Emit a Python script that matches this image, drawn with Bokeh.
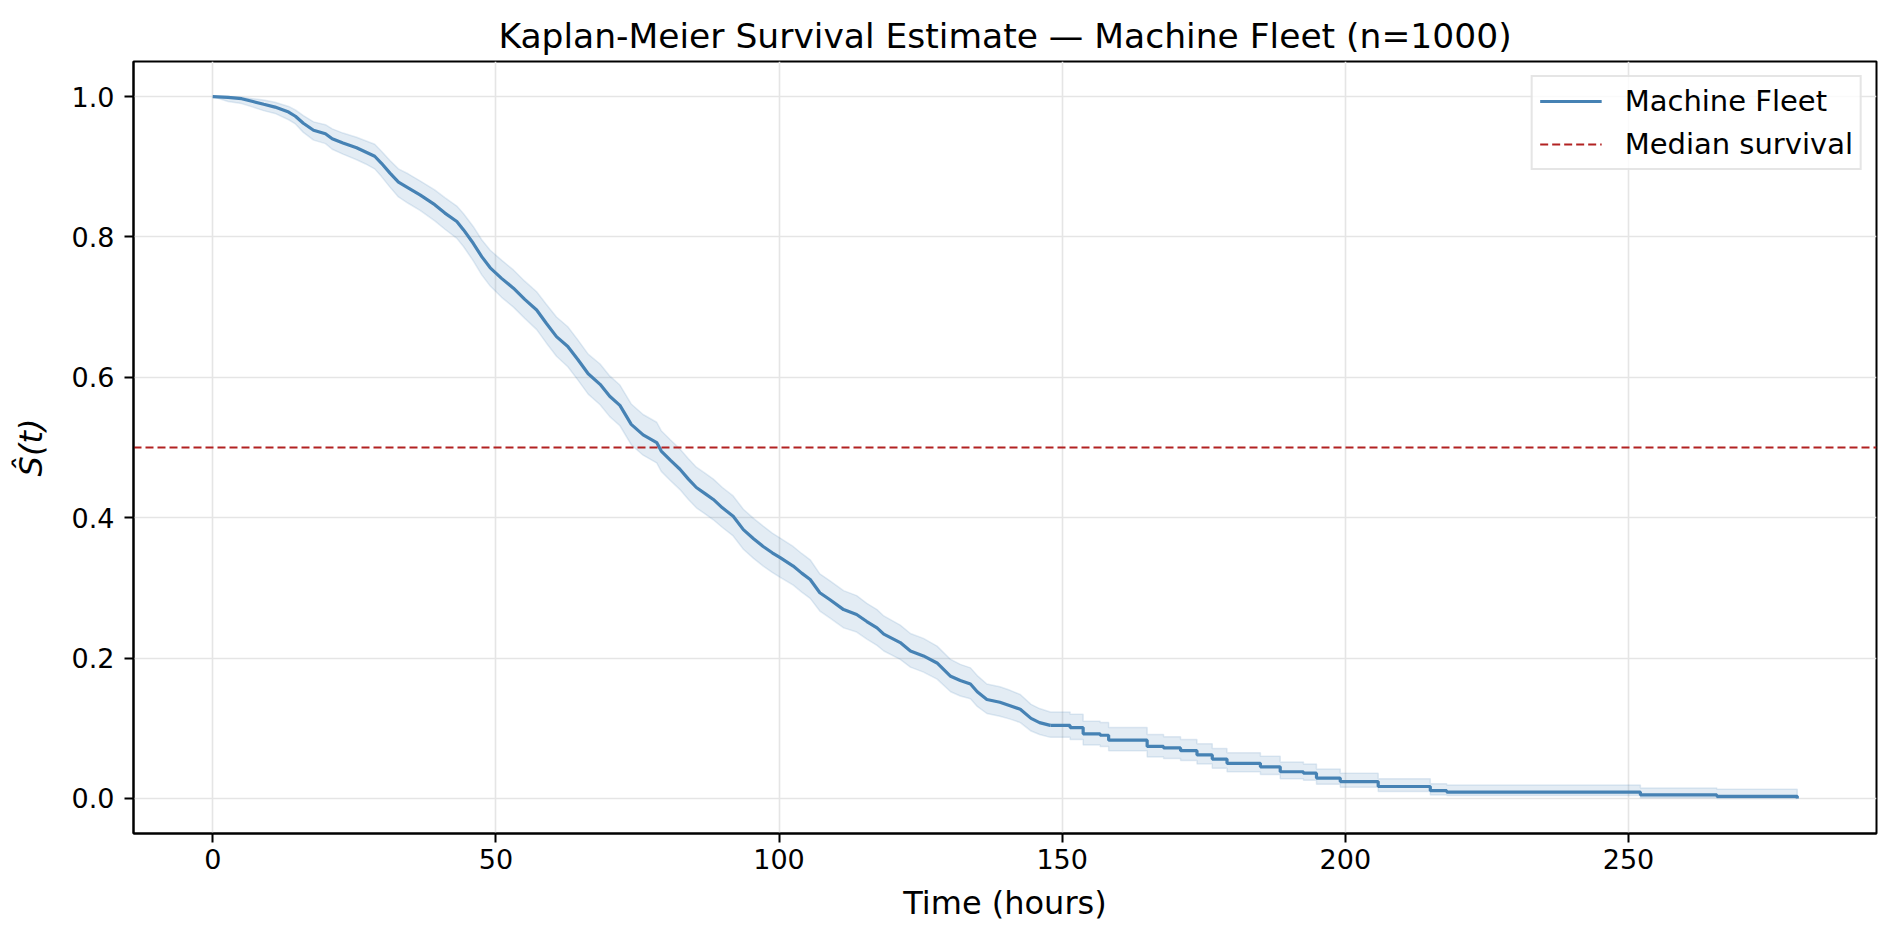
from bokeh.plotting import figure
from bokeh.models import Legend, LegendItem, FixedTicker, Range1d, PrintfTickFormatter
from bokeh.embed import file_html
from bokeh.resources import INLINE

# Kaplan-Meier estimate: event times (hours), S(t) and 95% band
time_h = [0.0, 2.7, 5.1, 7.1, 9.0, 11.0, 13.4, 14.6, 16.0, 17.8, 19.9, 21.1, 23.0, 25.4,
          27.0, 28.6, 29.8, 31.3, 32.8, 34.5, 36.6, 39.2, 41.0, 43.1, 44.3, 46.0, 47.5,
          49.0, 51.0, 53.1, 55.1, 57.2, 58.9, 60.7, 62.7, 64.5, 66.3, 68.4, 70.1, 71.9,
          73.9, 76.0, 78.4, 79.2, 80.8, 82.5, 84.0, 85.4, 87.0, 88.4, 90.0, 91.9, 93.7,
          95.5, 97.2, 98.8, 100.2, 102.5, 104.0, 105.5, 107.2, 109.0, 111.4, 113.7, 115.5,
          117.3, 118.5, 121.4, 123.2, 125.5, 127.9, 130.3, 132.0, 133.8, 135.0, 136.7,
          139.0, 140.8, 142.6, 144.5, 146.0, 147.9, 151.4, 153.7, 156.7, 158.2, 165.0,
          167.9, 170.9, 173.8, 176.5, 179.1, 185.0, 188.5, 192.6, 194.9, 199.1, 205.8,
          215.0, 217.9, 252.1, 265.6, 279.8]
survival = [1.000, 0.999, 0.997, 0.993, 0.989, 0.985, 0.978, 0.972, 0.962, 0.952, 0.947,
            0.940, 0.934, 0.927, 0.921, 0.915, 0.905, 0.891, 0.878, 0.870, 0.860, 0.846,
            0.834, 0.822, 0.810, 0.791, 0.772, 0.756, 0.741, 0.727, 0.711, 0.696, 0.677,
            0.658, 0.644, 0.625, 0.605, 0.590, 0.573, 0.560, 0.533, 0.518, 0.507, 0.495,
            0.482, 0.469, 0.455, 0.443, 0.434, 0.426, 0.414, 0.402, 0.383, 0.370, 0.359,
            0.350, 0.343, 0.331, 0.321, 0.312, 0.293, 0.283, 0.269, 0.262, 0.252, 0.243,
            0.234, 0.222, 0.210, 0.203, 0.193, 0.174, 0.168, 0.163, 0.152, 0.141, 0.137,
            0.132, 0.127, 0.114, 0.108, 0.104, 0.101, 0.092, 0.090, 0.083, 0.074, 0.072,
            0.068, 0.062, 0.056, 0.050, 0.045, 0.038, 0.036, 0.029, 0.024, 0.017, 0.011,
            0.009, 0.005, 0.003, 0.000]
ci_lower = [1.000, 0.993, 0.990, 0.985, 0.980, 0.976, 0.967, 0.961, 0.949, 0.938, 0.933,
            0.925, 0.918, 0.910, 0.904, 0.897, 0.886, 0.871, 0.857, 0.848, 0.838, 0.823,
            0.811, 0.798, 0.786, 0.766, 0.746, 0.730, 0.714, 0.700, 0.684, 0.668, 0.649,
            0.630, 0.615, 0.596, 0.576, 0.561, 0.544, 0.531, 0.504, 0.489, 0.478, 0.466,
            0.453, 0.440, 0.426, 0.414, 0.405, 0.397, 0.386, 0.374, 0.355, 0.342, 0.331,
            0.322, 0.315, 0.304, 0.294, 0.285, 0.267, 0.257, 0.243, 0.237, 0.227, 0.218,
            0.210, 0.198, 0.187, 0.180, 0.170, 0.152, 0.146, 0.142, 0.131, 0.121, 0.117,
            0.113, 0.108, 0.096, 0.091, 0.087, 0.084, 0.076, 0.074, 0.068, 0.059, 0.057,
            0.054, 0.049, 0.043, 0.038, 0.034, 0.028, 0.026, 0.020, 0.016, 0.010, 0.005,
            0.004, 0.001, 0.000, 0.000]
ci_upper = [1.000, 1.000, 0.999, 0.997, 0.995, 0.992, 0.986, 0.981, 0.973, 0.964, 0.960,
            0.954, 0.948, 0.942, 0.937, 0.932, 0.922, 0.909, 0.897, 0.890, 0.880, 0.867,
            0.856, 0.844, 0.833, 0.815, 0.796, 0.781, 0.767, 0.753, 0.737, 0.722, 0.704,
            0.686, 0.672, 0.653, 0.633, 0.619, 0.602, 0.589, 0.562, 0.547, 0.536, 0.524,
            0.511, 0.498, 0.484, 0.472, 0.463, 0.455, 0.443, 0.431, 0.412, 0.399, 0.388,
            0.378, 0.371, 0.359, 0.349, 0.340, 0.320, 0.310, 0.296, 0.289, 0.278, 0.269,
            0.260, 0.247, 0.235, 0.228, 0.217, 0.198, 0.191, 0.186, 0.175, 0.163, 0.159,
            0.154, 0.148, 0.134, 0.128, 0.123, 0.120, 0.110, 0.108, 0.101, 0.091, 0.088,
            0.084, 0.078, 0.071, 0.065, 0.060, 0.052, 0.049, 0.042, 0.036, 0.028, 0.021,
            0.019, 0.015, 0.013, 0.000]
median_level = 0.5
# beyond this time the steps are sparse enough to show as stairs
sparse_from = 147.9

x_ticks = [0, 50, 100, 150, 200, 250]
y_ticks = [0.0, 0.2, 0.4, 0.6, 0.8, 1.0]

FONT = "DejaVu Sans"
BLUE = "#4682B4"
RED = "#B22222"

t_max = max(time_h)
x_lo, x_hi = -0.05 * t_max, 1.05 * t_max
p = figure(frame_width=1743, frame_height=772,
           min_border_left=133, min_border_right=19, min_border_top=61, min_border_bottom=107,
           x_range=Range1d(x_lo, x_hi), y_range=Range1d(-0.05, 1.05),
           output_backend="svg", toolbar_location=None,
           title="Kaplan-Meier Survival Estimate — Machine Fleet (n=1000)")

k = time_h.index(sparse_from)
t_d, t_s = time_h[:k + 1], time_h[k:]

# confidence band (dense part drawn through the read vertices, tail as stairs)
p.varea(x=t_d, y1=ci_lower[:k + 1], y2=ci_upper[:k + 1], fill_color=BLUE, fill_alpha=0.15)
p.varea_step(x=t_s, y1=ci_lower[k:], y2=ci_upper[k:], step_mode="after",
             fill_color=BLUE, fill_alpha=0.15)
for band in (ci_lower, ci_upper):
    p.line(t_d, band[:k + 1], line_color=BLUE, line_alpha=0.15, line_width=1.5)
    p.step(t_s, band[k:], mode="after", line_color=BLUE, line_alpha=0.15, line_width=1.5)

km = p.line(t_d, survival[:k + 1], line_color=BLUE, line_width=3.2)
p.step(t_s, survival[k:], mode="after", line_color=BLUE, line_width=3.2)

median = p.line([x_lo, x_hi], [median_level, median_level], line_color=RED,
                line_dash="8 4", line_width=2)

legend = Legend(items=[LegendItem(label="Machine Fleet", renderers=[km]),
                       LegendItem(label="Median survival", renderers=[median])],
                location="top_right", margin=14, padding=7, spacing=9,
                glyph_width=62, glyph_height=34, label_height=34, label_standoff=23,
                label_text_font=FONT, label_text_font_size="29px", label_text_color="black",
                border_line_color="#cccccc", border_line_width=2,
                background_fill_alpha=0.8)
p.add_layout(legend)

# title
p.title.text_font = FONT
p.title.text_font_size = "34.5px"
p.title.text_font_style = "normal"
p.title.text_color = "black"
p.title.align = "center"
p.title.standoff = 12

# axes
for ax in (p.xaxis, p.yaxis):
    ax.axis_line_width = 2
    ax.major_tick_line_width = 2
    ax.major_tick_out = 9
    ax.major_tick_in = 0
    ax.minor_tick_line_color = None
    ax.major_label_text_font = FONT
    ax.major_label_text_font_size = "27px"
    ax.major_label_text_color = "black"
    ax.axis_label_text_font = FONT
    ax.axis_label_text_font_size = "32px"
    ax.axis_label_text_color = "black"

p.xaxis.ticker = FixedTicker(ticks=x_ticks)
p.yaxis.ticker = FixedTicker(ticks=y_ticks)
p.yaxis.formatter = PrintfTickFormatter(format="%.1f")
p.xaxis.major_label_standoff = 6
p.yaxis.major_label_standoff = 10

p.xaxis.axis_label = "Time (hours)"
p.xaxis.axis_label_text_font_style = "normal"
p.xaxis.axis_label_standoff = 12
p.yaxis.axis_label = "Ŝ(t)"
p.yaxis.axis_label_text_font_style = "italic"
p.yaxis.axis_label_standoff = 19

p.grid.grid_line_color = "#e5e5e5"
p.grid.grid_line_width = 1.6
p.xgrid.ticker = FixedTicker(ticks=x_ticks)
p.ygrid.ticker = FixedTicker(ticks=y_ticks)
p.outline_line_color = "black"
p.outline_line_width = 2
p.outline_line_alpha = 1

open("out.html", "w").write(file_html(p, INLINE))
